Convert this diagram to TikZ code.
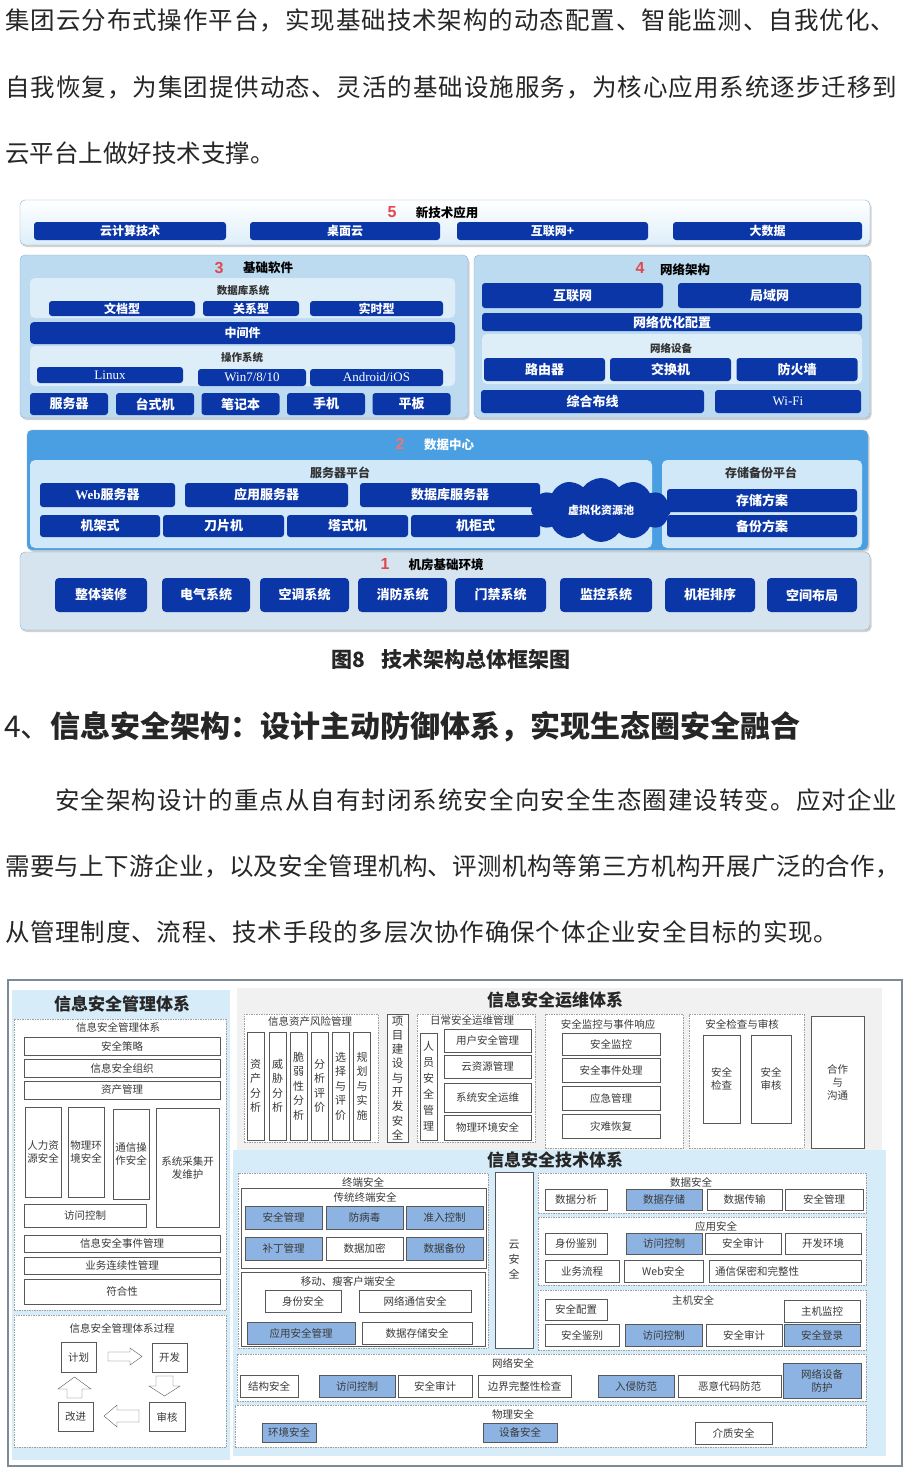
\documentclass[tikz,border=0pt]{standalone}
\usepackage{fontspec}
\setmainfont{Noto Sans CJK SC}
\newfontfamily\latinserif{Liberation Serif}
\newfontfamily\latinsans{Liberation Sans}
\usetikzlibrary{positioning,shapes.symbols,shadows}

\ExplSyntaxOn
\NewDocumentCommand\spreadtext{mm}
  {\makebox[#1][s]{\tl_map_inline:nn{#2}{##1\hfil}\unskip}}
\ExplSyntaxOff
\newcommand\setfs[1]{\fontsize{#1}{#1}\selectfont}

\definecolor{deepblue}{HTML}{0B36A8}
\definecolor{layerblue}{HTML}{BCDBF1}
\definecolor{innerblue}{HTML}{DDEEF9}
\definecolor{platblue}{HTML}{D0E8F8}
\definecolor{dcblue}{HTML}{4A9FE2}
\definecolor{roomgray}{HTML}{D6E4EF}
\definecolor{panelrim}{HTML}{8EAFC9}
\definecolor{digitred}{HTML}{E0484C}
\definecolor{secblue}{HTML}{D6ECF8}
\definecolor{secgray}{HTML}{F1F1F1}
\definecolor{markblue}{HTML}{8DB3E2}
\definecolor{framegray}{HTML}{7D8A97}
\definecolor{inkgray}{HTML}{3A3A3A}

\tikzset{
  sz/.style 2 args={minimum width=#1,minimum height=#2},
  layerpanel/.style={draw=panelrim,rounded corners=5pt,inner sep=0pt,
    drop shadow={shadow xshift=1.5pt,shadow yshift=-2pt,opacity=0.35}},
  innerpanel/.style={fill=innerblue,rounded corners=5pt,inner sep=0pt},
  tile/.style={fill=deepblue,text=white,rounded corners=3pt,inner sep=0pt,font=\setfs{12}\bfseries},
  digit/.style={text=digitred,font=\setfs{16}\bfseries\latinsans},
  layertitle/.style={font=\setfs{12.5}\bfseries},
  paneltag/.style={font=\setfs{10.5}\bfseries,text=black!80},
  bodyline/.style={anchor=west,inner sep=0pt,font=\setfs{24.5},text=black!85},
  secpanel/.style={inner sep=0pt},
  plainbox/.style={draw=inkgray!85,fill=white,inner sep=0pt,text=inkgray,font=\fontsize{10.5}{13}\selectfont,align=center},
  markbox/.style={plainbox,fill=markblue},
  vertbox/.style={plainbox,font=\fontsize{11}{14.5}\selectfont},
  dashbox/.style={draw=gray!75,dash pattern=on 1.5pt off 1pt,fill=white,inner sep=0pt},
  tag/.style={text=inkgray,font=\setfs{10.5}},
  bigtitle/.style={font=\setfs{17}\bfseries,text=black!85},
  blockarrow/.style={draw=inkgray!85,fill=white,line join=miter},
}

\begin{document}
\begin{tikzpicture}[x=1pt,y=-1pt]
  \useasboundingbox (0,0) rectangle (911,1472);
  \fill[white] (0,0) rectangle (911,1472);

  % text above
  \node[bodyline] (line1) at (5,20) {\spreadtext{890pt}{集团云分布式操作平台，实现基础技术架构的动态配置、智能监测、自我优化、}};
  \node[bodyline] (line2) at (5,87) {\spreadtext{892pt}{自我恢复，为集团提供动态、灵活的基础设施服务，为核心应用系统逐步迁移到}};
  \node[bodyline] (line3) at (5,153) {云平台上做好技术支撑。};

  % layer 5
  \node[layerpanel,top color=white,bottom color=innerblue,sz={850}{45}] (newtech) at (445,222.5) {};
  \node[digit] (n5) at (392,212) {5};
  \node[layertitle] (t5) at (447,213) {新技术应用};
  \foreach \k/\cx/\w/\t in {1/130/192/云计算技术,2/345/190/桌面云,3/552.5/191/互联网+,4/767.5/189/大数据}
    \node[tile,sz={\w}{18}] (app\k) at (\cx,231) {\t};

  % layer 3
  \node[layerpanel,fill=layerblue,sz={448}{163}] (basesw) at (244,336.5) {};
  \node[digit] (n3) at (219,268) {3};
  \node[layertitle] (t3) at (268,268) {基础软件};
  \node[innerpanel,sz={425}{40}] (dbsys) at (242.5,298) {};
  \node[paneltag] (dbtag) at (243,290) {数据库系统};
  \foreach \k/\cx/\w/\t in {1/122/146/文档型,2/251/96/关系型,3/376.5/133/实时型}
    \node[tile,sz={\w}{15}] (db\k) at (\cx,308.5) {\t};
  \node[tile,sz={425}{22},rounded corners=4pt] (mw) at (242.5,333) {中间件};
  \node[innerpanel,sz={425}{40}] (ossys) at (242.5,366) {};
  \node[paneltag] (ostag) at (242,357) {操作系统};
  \node[tile,sz={146}{16},font=\setfs{13}\latinserif] (linux) at (110,375) {Linux};
  \node[tile,sz={108}{17},font=\setfs{13}\latinserif] (win) at (252,377.5) {Win7/8/10};
  \node[tile,sz={133}{17},font=\setfs{13}\latinserif] (droid) at (376.5,377.5) {Android/iOS};
  \foreach \k/\cx/\t in {1/69/服务器,2/155/台式机,3/240.5/笔记本,4/326/手机,5/411.5/平板}
    \node[tile,sz={78}{22},font=\setfs{13}\bfseries] (hw\k) at (\cx,404) {\t};

  % layer 4
  \node[layerpanel,fill=layerblue,sz={396}{163}] (netarch) at (672,336.5) {};
  \node[digit] (n4) at (640,268) {4};
  \node[layertitle] (t4) at (685,270) {网络架构};
  \node[tile,sz={181}{25},font=\setfs{13}\bfseries] (inet) at (572.5,295.5) {互联网};
  \node[tile,sz={183}{25},font=\setfs{13}\bfseries] (lan) at (769.5,295.5) {局域网};
  \node[tile,sz={380}{18},font=\setfs{13}\bfseries] (netopt) at (672,322) {网络优化配置};
  \node[innerpanel,sz={380}{50}] (netdev) at (672,359) {};
  \node[paneltag] (devtag) at (671,348) {网络设备};
  \foreach \k/\cx/\t in {1/544.5/路由器,2/670.5/交换机,3/797/防火墙}
    \node[tile,sz={121}{23},font=\setfs{13}\bfseries] (dev\k) at (\cx,369.5) {\t};
  \node[tile,sz={223}{23},font=\setfs{13}\bfseries] (cabling) at (592.5,401.5) {综合布线};
  \node[tile,sz={146}{23},font=\setfs{13}\latinserif] (wifi) at (788,401.5) {Wi-Fi};

  % layer 2
  \node[layerpanel,fill=dcblue,sz={841}{120}] (dc) at (447.5,490) {};
  \node[digit,text=digitred!75!white] (n2) at (400,444) {2};
  \node[layertitle,text=white] (t2) at (449,445) {数据中心};
  \node[innerpanel,fill=platblue,sz={622}{88}] (srvplat) at (341,504) {};
  \node[paneltag,font=\setfs{12}\bfseries] (srvtag) at (340,473) {服务器平台};
  \node[tile,sz={135}{24},font=\setfs{13}\bfseries] (web) at (107.5,495) {{\latinserif Web}服务器};
  \node[tile,sz={163}{24},font=\setfs{13}\bfseries] (appsrv) at (266.5,495) {应用服务器};
  \node[tile,sz={180}{24},font=\setfs{13}\bfseries] (dbsrv) at (450,495) {数据库服务器};
  \foreach \k/\cx/\w/\t in {1/100/120/机架式,2/223.5/121/刀片机,3/347.5/121/塔式机,4/475.5/129/机柜式}
    \node[tile,sz={\w}{22},font=\setfs{13}\bfseries] (rack\k) at (\cx,526) {\t};
  \node[innerpanel,fill=platblue,sz={200}{88}] (bkplat) at (762,504) {};
  \node[paneltag,font=\setfs{12}\bfseries] (bktag) at (761,473) {存储备份平台};
  \node[tile,sz={190}{23},font=\setfs{13}\bfseries] (store) at (762,500.5) {存储方案};
  \node[tile,sz={190}{22},font=\setfs{13}\bfseries] (backup) at (762,526) {备份方案};
  \node[cloud,cloud puffs=12,cloud puff arc=110,cloud ignores aspect,fill=deepblue,text=white,sz={140}{64},inner sep=0pt,font=\setfs{11}\bfseries] (pool) at (601,510) {虚拟化资源池};

  % layer 1
  \node[layerpanel,fill=roomgray,sz={850}{78}] (room) at (445,591) {};
  \node[digit] (n1) at (385,564) {1};
  \node[layertitle] (t1) at (446,565) {机房基础环境};
  \foreach \k/\cx/\w/\t in {1/101/92/整体装修,2/206/88/电气系统,3/304.5/89/空调系统,4/402.5/89/消防系统,5/500.5/91/门禁系统,6/606/92/监控系统,7/710/90/机柜排序,8/812/90/空间布局}
    \node[tile,sz={\w}{34},rounded corners=4pt,font=\setfs{13}\bfseries] (env\k) at (\cx,595) {\t};

  % caption, heading, paragraph
  \node[font=\setfs{21}\bfseries,text=black!85] (fig8) at (451,659) {图8\hspace{0.8em}技术架构总体框架图};
  \node[bodyline,font=\setfs{30}\bfseries] (head4) at (4,727) {{\mdseries 4、}信息安全架构：设计主动防御体系，实现生态圈安全融合};
  \node[bodyline] (para1) at (55,800) {\spreadtext{842pt}{安全架构设计的重点从自有封闭系统安全向安全生态圈建设转变。应对企业}};
  \node[bodyline] (para2) at (5,866) {\spreadtext{895pt}{需要与上下游企业，以及安全管理机构、评测机构等第三方机构开展广泛的合作，}};
  \node[bodyline] (para3) at (5,932) {\spreadtext{833pt}{从管理制度、流程、技术手段的多层次协作确保个体企业安全目标的实现。}};

  % security frame
  \node[draw=framegray,line width=1.2pt,fill=white,sz={894}{486},inner sep=0pt] (secframe) at (455,1223) {};

  % management system
  \node[secpanel,fill=secblue,sz={218}{470}] (mgmt) at (121,1225) {};
  \node[bigtitle] (mgmttitle) at (122,1004) {信息安全管理体系};
  \node[dashbox,sz={212}{291}] (mgmtsys) at (120,1164.5) {};
  \node[tag] (mgmtsystag) at (118,1027) {信息安全管理体系};
  \foreach \k/\cy/\t in {1/1046/安全策略,2/1068/信息安全组织,3/1090/资产管理}
    \node[plainbox,sz={196}{18}] (pol\k) at (122,\cy) {\t};
  \node[plainbox,sz={36}{90}] (hr) at (43,1152) {人力资\\源安全};
  \node[plainbox,sz={36}{90}] (phyenv) at (86,1152) {物理环\\境安全};
  \node[plainbox,sz={36}{90}] (commop) at (131,1154) {通信操\\作安全};
  \node[plainbox,sz={63}{119}] (sysdev) at (187.5,1167.5) {系统采集开\\发维护};
  \node[plainbox,sz={122}{23}] (access) at (85,1215.5) {访问控制};
  \node[plainbox,sz={196}{17}] (incident) at (122,1243.5) {信息安全事件管理};
  \node[plainbox,sz={196}{17}] (bcm) at (122,1265.5) {业务连续性管理};
  \node[plainbox,sz={196}{25}] (comply) at (122,1291.5) {符合性};

  \node[dashbox,sz={212}{132}] (pdca) at (120,1381) {};
  \node[tag] (pdcatag) at (122,1328) {信息安全管理体系过程};
  \node[plainbox,sz={35}{30}] (plan) at (78.5,1357) {计划};
  \node[plainbox,sz={35}{29}] (build) at (169.5,1357.5) {开发};
  \node[plainbox,sz={36}{29}] (audit) at (167,1417) {审核};
  \node[plainbox,sz={35}{29}] (improve) at (75.5,1416.5) {改进};
  \draw[blockarrow] (108,1352) -- (130,1352) -- (130,1348) -- (142,1356.5) -- (130,1365) -- (130,1361) -- (108,1361) -- cycle;
  \draw[blockarrow] (156,1376) -- (173,1376) -- (173,1386) -- (180,1386) -- (164.5,1396) -- (149,1386) -- (156,1386) -- cycle;
  \draw[blockarrow] (139,1410) -- (117,1410) -- (117,1405) -- (104,1416) -- (117,1427) -- (117,1422) -- (139,1422) -- cycle;
  \draw[blockarrow] (67,1398) -- (67,1389) -- (58,1389) -- (74.5,1377) -- (91,1389) -- (82,1389) -- (82,1398) -- cycle;

  % operation system
  \node[secpanel,fill=secgray,sz={645}{162}] (ops) at (559.5,1069) {};
  \node[bigtitle] (opstitle) at (555,1000) {信息安全运维体系};
  \node[dashbox,sz={134}{128}] (risk) at (311,1078) {};
  \node[tag] (risktag) at (310,1021) {信息资产风险管理};
  \foreach \k/\cx/\t in {1/255.5/{资\\产\\分\\析},2/277.5/{威\\胁\\分\\析},3/298.5/{脆\\弱\\性\\分\\析},4/319.5/{分\\析\\评\\价},5/340.5/{选\\择\\与\\评\\价},6/362/{规\\划\\与\\实\\施}}
    \node[vertbox,sz={17}{108}] (risk\k) at (\cx,1086) {\t};
  \node[vertbox,sz={21}{128},font=\fontsize{11.5}{14.3}\selectfont] (projsec) at (397.5,1078) {项\\目\\建\\设\\与\\开\\发\\安\\全};
  \node[dashbox,sz={118}{128}] (daily) at (476,1078) {};
  \node[tag] (dailytag) at (472,1020) {日常安全运维管理};
  \node[vertbox,sz={17}{107},font=\fontsize{11}{16}\selectfont] (staff) at (428.5,1086.5) {人\\员\\安\\全\\管\\理};
  \foreach \k/\cy/\h/\t in {1/1040.5/23/用户安全管理,2/1066.5/23/云资源管理,3/1097.5/29/系统安全运维,4/1127.5/25/物理环境安全}
    \node[plainbox,sz={87}{\h}] (daily\k) at (487.5,\cy) {\t};
  \node[dashbox,sz={138}{134}] (monitor) at (614,1081) {};
  \node[tag] (monitortag) at (608,1024) {安全监控与事件响应};
  \foreach \k/\cy/\h/\t in {1/1044/22/安全监控,2/1070/24/安全事件处理,3/1098/24/应急管理,4/1126/24/灾难恢复}
    \node[plainbox,sz={98}{\h}] (mon\k) at (611,\cy) {\t};
  \node[dashbox,sz={115}{134}] (check) at (746.5,1081) {};
  \node[tag] (checktag) at (742,1024) {安全检查与审核};
  \node[plainbox,sz={37}{88}] (inspect) at (721.5,1079) {安全\\检查};
  \node[plainbox,sz={40}{88}] (review) at (771,1079) {安全\\审核};
  \node[plainbox,sz={53}{132}] (coop) at (837.5,1082) {合作\\与\\沟通};

  % technology system
  \node[secpanel,fill=secblue,sz={653}{306}] (tech) at (559.5,1303) {};
  \node[bigtitle] (techtitle) at (555,1160) {信息安全技术体系};
  \node[dashbox,sz={250}{175}] (endpoint) at (363,1260.5) {};
  \node[tag] (endpointtag) at (363,1182) {终端安全};
  \node[plainbox,sz={245}{80}] (legacy) at (363.5,1228) {};
  \node[tag] (legacytag) at (365,1197) {传统终端安全};
  \node[markbox,sz={77}{23}] (ep1) at (283.5,1217.5) {安全管理};
  \node[markbox,sz={77}{23}] (ep2) at (364.5,1217.5) {防病毒};
  \node[markbox,sz={77}{23}] (ep3) at (444.5,1217.5) {准入控制};
  \node[markbox,sz={77}{23}] (ep4) at (283.5,1248.5) {补丁管理};
  \node[plainbox,sz={77}{23}] (ep5) at (364.5,1248.5) {数据加密};
  \node[markbox,sz={77}{23}] (ep6) at (444.5,1248.5) {数据备份};
  \node[plainbox,sz={244}{74}] (mobile) at (363,1309) {};
  \node[tag] (mobiletag) at (348,1281) {移动、瘦客户端安全};
  \node[plainbox,sz={76}{22}] (mb1) at (303,1301) {身份安全};
  \node[plainbox,sz={112}{22}] (mb2) at (415,1301) {网络通信安全};
  \node[markbox,sz={108}{22}] (mb3) at (301,1333) {应用安全管理};
  \node[plainbox,sz={110}{22}] (mb4) at (417,1333) {数据存储安全};
  \node[vertbox,sz={38}{176},font=\fontsize{11}{15}\selectfont] (cloudsec) at (514,1260) {云\\安\\全};

  \node[dashbox,sz={328}{40}] (datasec) at (702,1193) {};
  \node[tag] (datatag) at (691,1182) {数据安全};
  \node[plainbox,sz={62}{21}] (ds1) at (576,1199.5) {数据分析};
  \node[markbox,sz={76}{21}] (ds2) at (664,1199.5) {数据存储};
  \node[plainbox,sz={75}{21}] (ds3) at (744.5,1199.5) {数据传输};
  \node[plainbox,sz={78}{21}] (ds4) at (824,1199.5) {安全管理};

  \node[dashbox,sz={328}{68}] (appsec) at (702,1251) {};
  \node[tag] (apptag) at (716,1226) {应用安全};
  \node[plainbox,sz={62}{21}] (as1) at (576,1243.5) {身份鉴别};
  \node[markbox,sz={76}{21}] (as2) at (664,1243.5) {访问控制};
  \node[plainbox,sz={76}{21}] (as3) at (743,1243.5) {安全审计};
  \node[plainbox,sz={76}{21}] (as4) at (823,1243.5) {开发环境};
  \node[plainbox,sz={74}{22}] (as5) at (582,1271) {业务流程};
  \node[plainbox,sz={79}{22}] (as6) at (663.5,1271) {Web安全};
  \node[plainbox,sz={152}{22},text width=140,inner xsep=6pt,align=left] (as7) at (785,1271) {通信保密和完整性};

  \node[dashbox,sz={328}{60}] (hostsec) at (702,1320) {};
  \node[tag] (hosttag) at (693,1300) {主机安全};
  \node[plainbox,sz={62}{21}] (hs1) at (576,1309.5) {安全配置};
  \node[plainbox,sz={76}{22}] (hs2) at (822,1311) {主机监控};
  \node[plainbox,sz={74}{22}] (hs3) at (582,1335) {安全鉴别};
  \node[markbox,sz={77}{22}] (hs4) at (663.5,1335) {访问控制};
  \node[plainbox,sz={76}{22}] (hs5) at (744,1335) {安全审计};
  \node[markbox,sz={76}{22}] (hs6) at (822,1335) {安全登录};

  \node[dashbox,sz={629}{47}] (netsec) at (551.5,1377.5) {};
  \node[tag] (nettag) at (513,1363) {网络安全};
  \node[plainbox,sz={58}{22}] (ns1) at (269,1386) {结构安全};
  \node[markbox,sz={76}{22}] (ns2) at (357,1386) {访问控制};
  \node[plainbox,sz={74}{22}] (ns3) at (435,1386) {安全审计};
  \node[plainbox,sz={93}{22}] (ns4) at (524.5,1386) {边界完整性检查};
  \node[markbox,sz={76}{22}] (ns5) at (636,1386) {入侵防范};
  \node[plainbox,sz={103}{22}] (ns6) at (729.5,1386) {恶意代码防范};
  \node[markbox,sz={78}{35}] (ns7) at (822,1380.5) {网络设备\\防护};

  \node[dashbox,sz={631}{42}] (physec) at (550.5,1426) {};
  \node[tag] (phytag) at (513,1414) {物理安全};
  \node[markbox,sz={54}{19}] (ps1) at (289,1432.5) {环境安全};
  \node[markbox,sz={74}{19}] (ps2) at (520,1432.5) {设备安全};
  \node[plainbox,sz={77}{22}] (ps3) at (733.5,1433) {介质安全};
\end{tikzpicture}
\end{document}
